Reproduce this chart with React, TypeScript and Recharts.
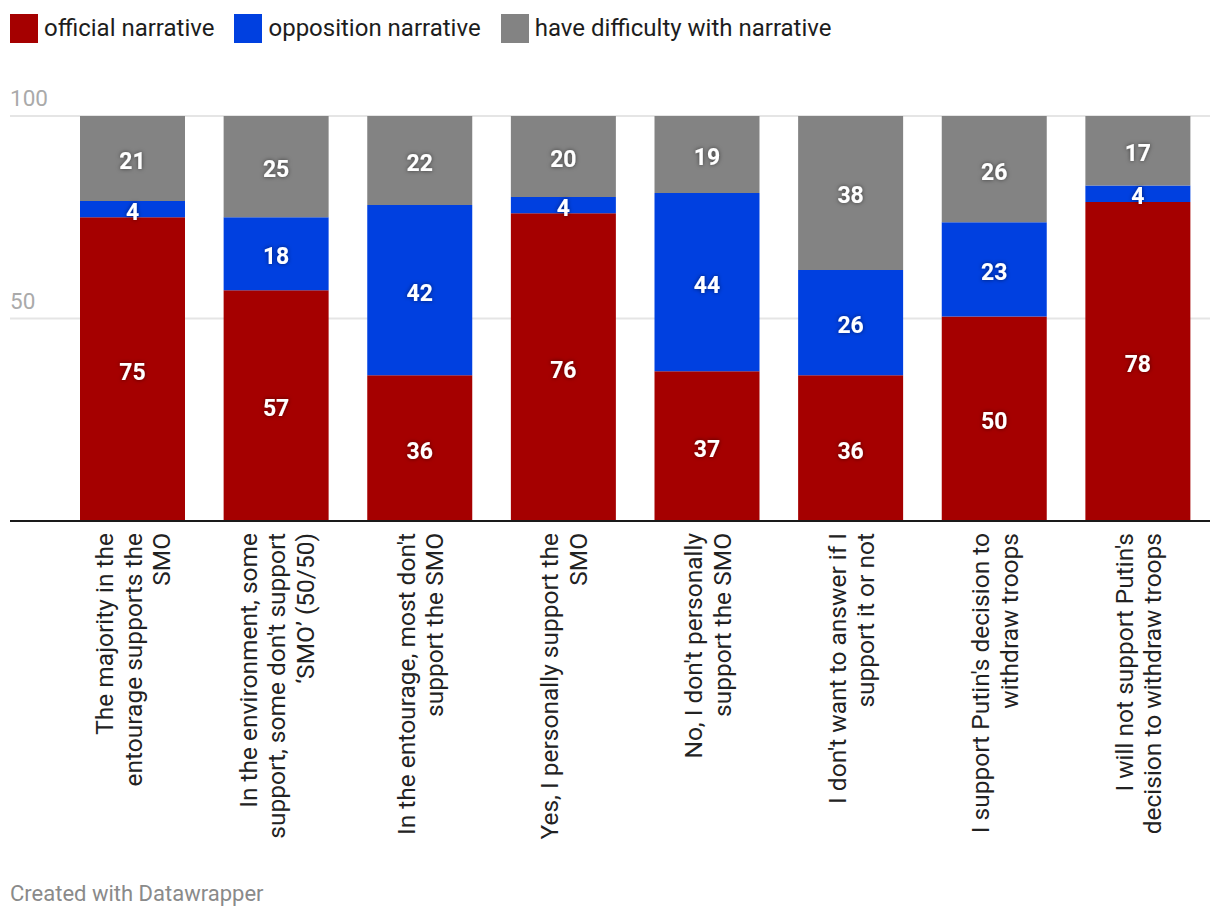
import React from "react";
import {
  BarChart,
  Bar,
  XAxis,
  YAxis,
  CartesianGrid,
  Legend,
  LabelList,
  ReferenceLine,
} from "recharts";

const categories = [
  "The majority in the\nentourage supports the\nSMO",
  "In the environment, some\nsupport, some don't support\n‘SMO’ (50/50)",
  "In the entourage, most don't\nsupport the SMO",
  "Yes, I personally support the\nSMO",
  "No, I don't personally\nsupport the SMO",
  "I don't want to answer if I\nsupport it or not",
  "I support Putin's decision to\nwithdraw troops",
  "I will not support Putin's\ndecision to withdraw troops",
];

const officialValues = [75, 57, 36, 76, 37, 36, 50, 78];
const oppositionValues = [4, 18, 42, 4, 44, 26, 23, 4];
const difficultyValues = [21, 25, 22, 20, 19, 38, 26, 17];

const yTicks = [0, 0.5, 1];

const series = [
  { key: "official", name: "official narrative", color: "#a50000" },
  { key: "opposition", name: "opposition narrative", color: "#0040e0" },
  { key: "difficulty", name: "have difficulty with narrative", color: "#838383" },
];

const data = categories.map((label, i) => ({
  label,
  official: officialValues[i],
  opposition: oppositionValues[i],
  difficulty: difficultyValues[i],
}));

const FONT = "Roboto, 'Noto Sans', sans-serif";

const XTick = ({ x, y, payload }: any) => {
  const lines = String(payload.value).split("\n");
  const n = lines.length;
  return (
    <g transform={`translate(${x},${y + 10})`}>
      <text
        transform="rotate(-90)"
        textAnchor="end"
        fontSize={24.5}
        fontFamily={FONT}
        fill="#222"
      >
        {lines.map((l, i) => (
          <tspan key={i} x={0} y={(i - (n - 1) / 2) * 28.5 + 9}>
            {l}
          </tspan>
        ))}
      </text>
    </g>
  );
};

const YTick = ({ y, payload }: any) => {
  if (payload.value === 0) return null;
  return (
    <text
      x={2}
      y={y - 10}
      fontSize={22.5}
      fontFamily={FONT}
      fill="#aaaaaa"
      textAnchor="start"
    >
      {Math.round(payload.value * 100)}
    </text>
  );
};

const ValueLabel = ({ x, y, width, height, value }: any) => (
  <text
    x={x + width / 2}
    y={y + height / 2 + 3}
    textAnchor="middle"
    dominantBaseline="central"
    fontSize={23}
    fontWeight={700}
    fontFamily={FONT}
    fill="#fff"
    filter="url(#lblShadow)"
  >
    {value}
  </text>
);

const LegendContent = () => (
  <div
    style={{
      display: "flex",
      height: 40,
      paddingTop: 1,
      boxSizing: "border-box",
      fontFamily: FONT,
      fontSize: 24,
      color: "#1d1d1d",
    }}
  >
    {series.map((s) => (
      <div
        key={s.key}
        style={{ display: "flex", alignItems: "center", marginLeft: 2, marginRight: 18 }}
      >
        <span
          style={{
            display: "inline-block",
            width: 28,
            height: 29,
            background: s.color,
            marginRight: 6,
          }}
        />
        <span style={{ lineHeight: "29px" }}>{s.name}</span>
      </div>
    ))}
  </div>
);

export default function App() {
  return (
    <div style={{ width: 1204, fontFamily: FONT }}>
      <BarChart
        width={1204}
        height={860}
        data={data}
        stackOffset="expand"
        margin={{ top: 68, right: 2, bottom: 0, left: 1 }}
      >
        <defs>
          <filter id="lblShadow" x="-50%" y="-50%" width="200%" height="200%">
            <feDropShadow dx="0" dy="0" stdDeviation="2" floodColor="#000" floodOpacity="0.55" />
          </filter>
        </defs>
        <Legend
          verticalAlign="top"
          align="left"
          content={<LegendContent />}
          wrapperStyle={{ top: 0, left: 0, height: 40 }}
        />
        <CartesianGrid vertical={false} stroke="#e5e5e5" strokeWidth={2} />
        <XAxis
          dataKey="label"
          interval={0}
          axisLine={false}
          tickLine={false}
          tickSize={0}
          height={347}
          padding={{ left: 51, right: 0 }}
          tick={<XTick />}
        />
        <YAxis
          width={1}
          domain={[0, 1]}
          ticks={yTicks}
          axisLine={false}
          tickLine={false}
          tick={<YTick />}
        />
        {series.map((s) => (
          <Bar
            key={s.key}
            dataKey={s.key}
            name={s.name}
            stackId="a"
            fill={s.color}
            barSize={105}
            isAnimationActive={false}
          >
            <LabelList dataKey={s.key} content={<ValueLabel />} />
          </Bar>
        ))}
        <ReferenceLine y={0} stroke="#1a1a1a" strokeWidth={2} />
      </BarChart>
      <div
        style={{
          marginTop: 13,
          marginLeft: 2,
          fontSize: 22,
          color: "#8a8a8a",
          fontFamily: FONT,
        }}
      >
        Created with Datawrapper
      </div>
    </div>
  );
}
